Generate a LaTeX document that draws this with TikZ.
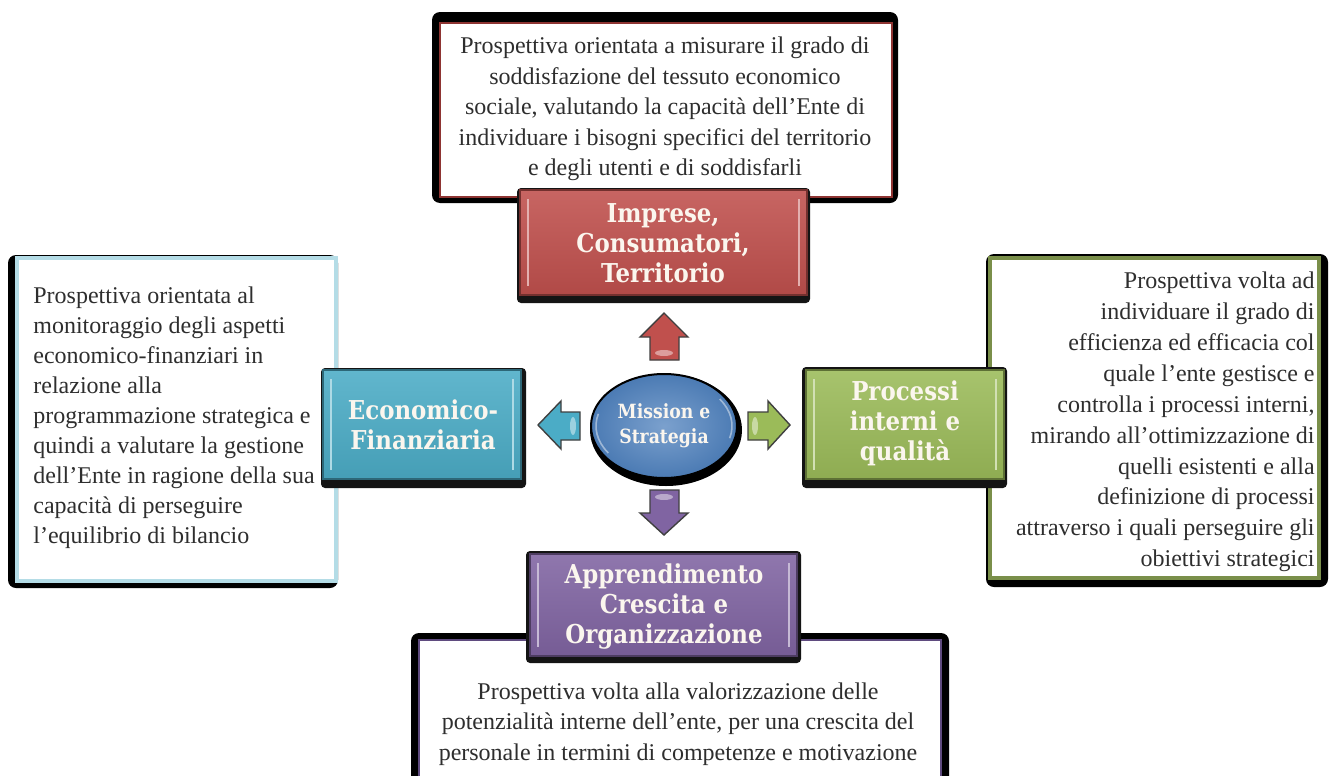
\documentclass[tikz,border=0pt]{standalone}
\usepackage{fontspec}
\setmainfont{Liberation Serif}
\newfontfamily\titlefont{DejaVu Serif}[FakeStretch=0.88]
\usetikzlibrary{shapes.geometric}
\definecolor{cred}{HTML}{C0504D}
\definecolor{caqua}{HTML}{4BACC6}
\definecolor{cgreen}{HTML}{9BBB59}
\definecolor{cpurple}{HTML}{8064A2}
\definecolor{cblue}{HTML}{4F81BD}
\definecolor{bred}{HTML}{8E3432}
\definecolor{baqua}{HTML}{B4DCE6}
\definecolor{bgreen}{HTML}{7A8F4A}
\definecolor{bpurple}{HTML}{5F4B7F}
\definecolor{txt}{HTML}{2E2E2E}
\definecolor{ttxt}{HTML}{FBF6EE}
\tikzset{
  desc/.style={font=\fontsize{12}{15.25}\selectfont, inner sep=0pt, text=txt},
  ttl/.style={font=\titlefont\bfseries\fontsize{13}{15}\selectfont, text=ttxt, align=center, inner sep=0pt},
  shadowbox/.style={fill=black, rounded corners=4pt},
  arrowshape/.style={draw=black!75, line width=0.7pt, line join=miter},
  gloss/.style={fill=white, opacity=0.45},
}
\newcommand\mytbox[9]{%
  \fill[black!92, rounded corners=2pt] (#1,#2) rectangle (#3,#4);
  \shade[top color=#9!88!white, bottom color=#9!92!black] (#5,#6) rectangle (#7,#8);
  \draw[#9!45!white, line width=1.4pt] (#5+8,#6+9) -- (#5+8,#8-9);
  \draw[#9!45!white, line width=1.4pt] (#7-8,#6+9) -- (#7-8,#8-9);
  \draw[#9!60!black, line width=0.6pt] (#5,#6) rectangle (#7,#8);
}
\begin{document}
\begin{tikzpicture}[x=0.5pt,y=-0.5pt]
\useasboundingbox (0,0) rectangle (1333,776);
\clip (0,0) rectangle (1333,776);
\fill[white] (0,0) rectangle (1333,776);

% ---------- description boxes ----------
% top
\fill[shadowbox] (432,12) rectangle (898,203);
\filldraw[fill=white, draw=bred, line width=1.4pt] (440,23) rectangle (892,197);
\node[desc, align=center] (toptext) at (665,109) {Prospettiva orientata a misurare il grado di\\soddisfazione del tessuto economico\\sociale, valutando la capacità dell’Ente di\\individuare i bisogni specifici del territorio\\e degli utenti e di soddisfarli};

% left
\fill[shadowbox] (8,255) rectangle (338,588);
\filldraw[fill=white, draw=baqua, line width=1.6pt] (17,258) rectangle (336,581);
\node[desc, align=left, anchor=west, font=\fontsize{12}{15}\selectfont] (lefttext) at (33,418) {Prospettiva orientata al\\monitoraggio degli aspetti\\economico-finanziari in\\relazione alla\\programmazione strategica e\\quindi a valutare la gestione\\dell’Ente in ragione della sua\\capacità di perseguire\\l’equilibrio di bilancio};

% right
\fill[shadowbox] (986,254) rectangle (1328,587);
\filldraw[fill=white, draw=bgreen, line width=1.6pt] (990,258) rectangle (1319,578);
\node[desc, align=right, anchor=east, font=\fontsize{12}{15.45}\selectfont] (righttext) at (1315,422) {Prospettiva volta ad\\individuare il grado di\\efficienza ed efficacia col\\quale l’ente gestisce e\\controlla i processi interni,\\mirando all’ottimizzazione di\\quelli esistenti e alla\\definizione di processi\\attraverso i quali perseguire gli\\obiettivi strategici};

% bottom
\fill[shadowbox] (411,633) rectangle (949,800);
\filldraw[fill=white, draw=bpurple, line width=1.4pt] (419,640) rectangle (941,800);
\node[desc, align=center] (bottomtext) at (678,724) {Prospettiva volta alla valorizzazione delle\\potenzialità interne dell’ente, per una crescita del\\personale in termini di competenze e motivazione};

% ---------- title boxes ----------
\mytbox{517}{188}{810}{303}{520}{190}{807}{295}{cred}
\node[ttl] (imprese) at (663,243) {Imprese,\\Consumatori,\\Territorio};

\mytbox{321}{368}{526}{488}{323}{370}{521}{479}{caqua}
\node[ttl] (economico) at (423,425) {Economico-\\Finanziaria};

\mytbox{802}{367}{1007}{488}{806}{370}{1004}{479}{cgreen}
\node[ttl] (processi) at (905,423) {Processi\\interni e\\qualità};

\mytbox{526}{551}{801}{663}{530}{554}{797}{656}{cpurple}
\node[ttl] (apprendimento) at (664,607) {Apprendimento\\Crescita e\\Organizzazione};

% ---------- central ellipse ----------
\fill[black] (666,430) ellipse (76 and 56);
\node[ellipse, draw=black, line width=1pt, inner color=cblue!75!white, outer color=cblue!95!black,
      minimum width=73pt, minimum height=52pt, inner sep=0pt,
      font=\titlefont\bfseries\fontsize{9.8}{12.5}\selectfont, text=ttxt, align=center] (mission) at (664,426) {Mission e\\Strategia};
\draw[white, opacity=0.45, line width=0.8pt] (664,426) ++(145:68 and 47) arc (145:195:68 and 47);
\draw[white, opacity=0.45, line width=0.8pt] (664,426) ++(-35:68 and 47) arc (-35:15:68 and 47);

% ---------- block arrows ----------
\filldraw[arrowshape, fill=cred] (664,313) -- (688,337) -- (679,337) -- (679,360) -- (650,360) -- (650,337) -- (640,337) -- cycle;
\fill[gloss] (664,353) ellipse (9 and 3);
\filldraw[arrowshape, fill=caqua] (538,425) -- (561,401) -- (561,412) -- (580,412) -- (580,440) -- (561,440) -- (561,449) -- cycle;
\fill[gloss] (573,426) ellipse (3 and 9);
\filldraw[arrowshape, fill=cgreen] (790,425) -- (768,401) -- (768,412) -- (748,412) -- (748,440) -- (768,440) -- (768,449) -- cycle;
\fill[gloss] (755,426) ellipse (3 and 9);
\filldraw[arrowshape, fill=cpurple] (664,535) -- (640,513) -- (650,513) -- (650,490) -- (679,490) -- (679,513) -- (688,513) -- cycle;
\fill[gloss] (664,497) ellipse (9 and 3);
\end{tikzpicture}
\end{document}
